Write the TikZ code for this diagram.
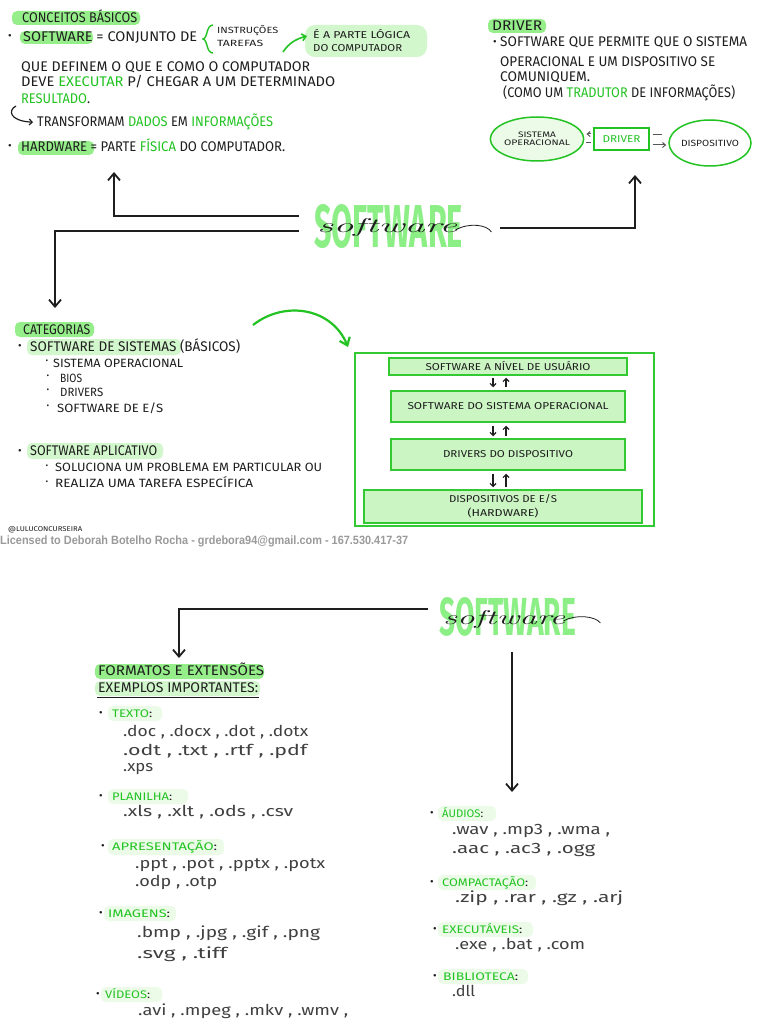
\documentclass[tikz,border=0pt]{standalone}
\usepackage{fontspec}
\usepackage{graphicx}
\usetikzlibrary{arrows.meta,calc,shapes.geometric}
\newfontfamily\hand{Fira Sans}
\newfontfamily\licfont{Liberation Sans}
\definecolor{ink}{HTML}{1E1E1E}
\definecolor{gtext}{HTML}{22C322}
\definecolor{hl}{HTML}{95EE89}
\definecolor{hll}{HTML}{D3F7CC}
\definecolor{hlf}{HTML}{ECFBE8}
\definecolor{bigg}{HTML}{8BEF86}
\definecolor{boxline}{HTML}{33C933}
\definecolor{boxfill}{HTML}{CBF5C3}
\definecolor{lic}{HTML}{9A9A9A}
\newcommand\fw[2]{\resizebox{#1pt}{\height}{#2}}
\newcommand\gw[1]{\textcolor{gtext}{#1}}
\newcommand\kw[1]{\textcolor{ink}{#1}}
\tikzset{
 tx/.style={inner sep=0pt, anchor=base west, text=ink, font=\hand\fontsize{14}{16}\selectfont},
 txm/.style={tx, font=\hand\fontsize{12}{14}\selectfont},
 txs/.style={tx, font=\hand\fontsize{10}{12}\selectfont},
 cat/.style={tx, text=gtext, font=\hand\fontsize{11}{13}\selectfont},
 ext/.style={inner sep=0pt, anchor=base west, text=ink!85, font=\hand\fontsize{15}{17}\selectfont},
 bul/.style={inner sep=0pt, text=ink, font=\hand\fontsize{11}{11}\selectfont},
 bulsm/.style={inner sep=0pt, text=ink, font=\hand\fontsize{8}{8}\selectfont},
 conn/.style={draw=ink, line width=1.8pt, -{Straight Barb[length=7pt,width=12pt]}},
 gconn/.style={draw=gtext, line width=2.2pt, -{Straight Barb[length=7pt,width=11pt]}},
 gconnsm/.style={draw=gtext, line width=1.6pt, -{Straight Barb[length=4pt,width=7pt]}},
 sarr/.style={draw=ink!75, line width=1pt, -{Straight Barb[length=3pt,width=5pt]}},
 sline/.style={draw=ink!75, line width=1pt},
 larr/.style={draw=ink, line width=1.2pt, -{Straight Barb[length=3pt,width=6pt]}},
 lay/.style={draw=boxline, line width=1.5pt, fill=boxfill, inner sep=0pt, text=ink, font=\hand\fontsize{10}{14}\selectfont},
 bigsw/.style={inner sep=0pt, text=bigg, font=\hand\bfseries\fontsize{40}{40}\selectfont},
 script/.style={inner sep=0pt, anchor=base west, text=ink, font=\rmfamily\itshape\fontsize{20}{20}\selectfont},
}
\begin{document}
\begin{tikzpicture}[x=1pt,y=-1pt]
\useasboundingbox (0,0) rectangle (768,1024);
\fill[white] (0,0) rectangle (768,1024);

% ---------- highlights ----------
\fill[hl, rounded corners=5pt] (12,11) rectangle (140,25);
\fill[hl, rounded corners=5pt] (20,31) rectangle (93,44);
\fill[hll, rounded corners=10pt] (305,25) rectangle (427,57);
\fill[hl, rounded corners=5pt] (18,141) rectangle (94,155);
\fill[hl, rounded corners=5pt] (488,19) rectangle (546,33);
\fill[hl, rounded corners=5pt] (15,322) rectangle (94,337);
\fill[hll, rounded corners=5pt] (27,339) rectangle (181,355);
\fill[hll, rounded corners=5pt] (27,443) rectangle (163,459);
\fill[hl, rounded corners=5pt] (95,664) rectangle (264,679);
\fill[hll, rounded corners=5pt] (95,681) rectangle (260,696);
\fill[hlf, rounded corners=5pt] (108,706) rectangle (162,721);
\fill[hlf, rounded corners=5pt] (108,789) rectangle (188,804);
\fill[hlf, rounded corners=5pt] (108,839) rectangle (224,855);
\fill[hlf, rounded corners=5pt] (104,906) rectangle (176,921);
\fill[hlf, rounded corners=5pt] (101,987) rectangle (162,1002);
\fill[hlf, rounded corners=5pt] (438,806) rectangle (496,821);
\fill[hlf, rounded corners=5pt] (438,875) rectangle (536,890);
\fill[hlf, rounded corners=5pt] (438,922) rectangle (533,937);
\fill[hlf, rounded corners=5pt] (438,969) rectangle (528,984);

% ---------- conceitos basicos ----------
\node[tx] (cb) at (22,22.8) {\fw{115}{CONCEITOS BÁSICOS}};
\node[bul] (b1) at (10,37) {•};
\node[tx] (sw) at (23,41.8) {\fw{174}{SOFTWARE = CONJUNTO DE}};
\draw[gtext, line width=1.4pt] (213,25) .. controls (206,25) and (208,38) .. (203,39) .. controls (208,40) and (206,53) .. (213,53);
\node[tx, font=\hand\fontsize{9}{11}\selectfont] (ins) at (217,34) {\fw{61}{INSTRUÇÕES}};
\node[tx, font=\hand\fontsize{9}{11}\selectfont] (tar) at (217,46.5) {\fw{46}{TAREFAS}};
\node[txs] (pl1) at (313,38.5) {\fw{97}{É A PARTE LÓGICA}};
\node[txs] (pl2) at (313,51.5) {\fw{89}{DO COMPUTADOR}};
\coordinate (ga) at (283,52);
\draw[gconnsm] (ga) .. controls (289,43) and (296,39) .. ($(pl1.west)+(-6,2)$);
\node[tx] (q1) at (21,71.8) {\fw{289}{QUE DEFINEM O QUE E COMO O COMPUTADOR}};
\node[tx] (q2) at (21,86.8) {\fw{314}{DEVE \gw{EXECUTAR} P/ CHEGAR A UM DETERMINADO}};
\node[tx] (q3) at (21,103.8) {\fw{69}{\gw{RESULTADO}.}};
\node[tx] (q4) at (37,126.8) {\fw{236}{TRANSFORMAM \gw{DADOS} EM \gw{INFORMAÇÕES}}};
\coordinate (hk) at (16,106);
\draw[draw=ink, line width=1.2pt, -{Straight Barb[length=3pt,width=6pt]}] (hk) .. controls (8,110) and (9,121) .. ($(q4.west)+(-4,0)$);
\node[bul] (b2) at (10,147) {•};
\node[tx] (hw) at (21,151.8) {\fw{264}{HARDWARE = PARTE \gw{FÍSICA} DO COMPUTADOR.}};

% ---------- driver ----------
\node[tx] (drvt) at (492,30.8) {\fw{50}{DRIVER}};
\node[bul] (b3) at (495,43) {•};
\node[tx] (d1) at (500,46.8) {\fw{247}{SOFTWARE QUE PERMITE QUE O SISTEMA}};
\node[tx] (d2) at (500,66.3) {\fw{215}{OPERACIONAL E UM DISPOSITIVO SE}};
\node[tx] (d3) at (500,81.8) {\fw{90}{COMUNIQUEM.}};
\node[tx] (d4) at (503,97.8) {\fw{232}{(COMO UM \gw{TRADUTOR} DE INFORMAÇÕES)}};
\node[ellipse, draw=gtext, line width=1.5pt, fill=hlf, minimum width=80pt, minimum height=44pt, inner sep=0pt, align=center, text=ink, font=\hand\fontsize{8}{8}\selectfont] (so) at (537,139) {\fw{38}{SISTEMA}\\\fw{66}{OPERACIONAL}};
\node[draw=gtext, line width=1.3pt, fill=white, minimum width=55pt, minimum height=22pt, inner sep=0pt, text=gtext, font=\hand\fontsize{10}{10}\selectfont] (drv) at (621.5,139) {\fw{38}{DRIVER}};
\node[ellipse, draw=gtext, line width=1.5pt, fill=white, minimum width=76pt, minimum height=46pt, inner sep=0pt, text=ink, font=\hand\fontsize{9}{9}\selectfont] (disp) at (710,143) {\fw{58}{DISPOSITIVO}};
\draw[sarr] ($(drv.west)+(-2,-5)$) -- ($(so.east)+(2,-5)$);
\draw[sline] ($(drv.west)+(-2,4)$) -- ($(so.east)+(2,4)$);
\draw[sline] ($(drv.east)+(3,-4)$) -- ($(disp.west)+(-6,-8)$);
\draw[sarr] ($(drv.east)+(3,6)$) -- ($(disp.west)+(-2,2)$);

% ---------- central software ----------
\node[bigsw] (big1) at (388.5,226.5) {\resizebox{149pt}{43pt}{SOFTWARE}};
\node[script] (scr1) at (317,233) {\resizebox{140pt}{\height}{software}};
\draw[ink, line width=0.8pt] ($(scr1.base east)+(-2,-3)$) .. controls ($(scr1.base east)+(12,-11)$) and ($(scr1.base east)+(30,-8)$) .. ($(scr1.base east)+(34,-1)$);
\coordinate (u1) at (114,172);
\coordinate (dn1) at (55,308);
\coordinate (u2) at (635,175);
\draw[conn] ($(big1.west)+(-15,-10.5)$) -| (u1);
\draw[conn] ($(big1.west)+(-15,4.5)$) -| (dn1);
\draw[conn] ($(big1.east)+(37,1.5)$) -| (u2);

% ---------- categorias ----------
\node[tx] (cat) at (23,334.8) {\fw{67}{CATEGORIAS}};
\node[bul] (b4) at (20,347) {•};
\node[tx] (ss) at (30,351.8) {\fw{210}{SOFTWARE DE SISTEMAS (BÁSICOS)}};
\node[bulsm] (b5) at (47,362) {•};
\node[txm] (s1) at (53,367) {\fw{130}{SISTEMA OPERACIONAL}};
\node[bulsm] (b6) at (48,377) {•};
\node[txm] (s2) at (60,382) {\fw{22}{BIOS}};
\node[bulsm] (b7) at (48,391) {•};
\node[txm] (s3) at (60,396) {\fw{43}{DRIVERS}};
\node[bulsm] (b8) at (48,407) {•};
\node[txm] (s4) at (57,412) {\fw{106}{SOFTWARE DE E/S}};
\node[bul] (b9) at (20,452) {•};
\node[tx] (sa) at (30,455.8) {\fw{127}{SOFTWARE APLICATIVO}};
\node[bulsm] (b10) at (47,467) {•};
\node[txm] (a1) at (55,471) {\fw{267}{SOLUCIONA UM PROBLEMA EM PARTICULAR OU}};
\node[bulsm] (b11) at (47,483) {•};
\node[txm] (a2) at (55,487) {\fw{198}{REALIZA UMA TAREFA ESPECÍFICA}};
\node[tx, font=\hand\fontsize{7}{7}\selectfont] (atn) at (8,531) {\fw{74}{@LULUCONCURSEIRA}};
\node[inner sep=0pt, anchor=base west, text=lic, font=\licfont\bfseries\fontsize{12}{12}\selectfont] (licn) at (0,544.5) {\fw{408}{Licensed to Deborah Botelho Rocha - grdebora94@gmail.com - 167.530.417-37}};

% ---------- layers box ----------
\node[draw=boxline, line width=2pt, fill=white, minimum width=299pt, minimum height=173pt, inner sep=0pt] (layers) at (504.5,439.5) {};
\coordinate (gcs) at (253,325);
\draw[gconn] (gcs) .. controls (285,300) and (332,308) .. ($(layers.north west)+(-6,-5)$);
\node[lay, minimum width=238pt, minimum height=17pt] (l1) at (508,366.5) {\fw{165}{SOFTWARE A NÍVEL DE USUÁRIO}};
\node[lay, minimum width=234pt, minimum height=31pt] (l2) at (508,406.5) {\fw{201}{SOFTWARE DO SISTEMA OPERACIONAL}};
\node[lay, minimum width=234pt, minimum height=31pt] (l3) at (508,454.5) {\fw{130}{DRIVERS DO DISPOSITIVO}};
\node[lay, minimum width=278pt, minimum height=33pt, align=center] (l4) at (503,506.5) {\fw{108}{DISPOSITIVOS DE E/S}\\\fw{71}{(HARDWARE)}};
\draw[larr] ($(l1.south)+(-15,2)$) -- ($(l2.north)+(-15,-3)$);
\draw[larr] ($(l2.north)+(-2,-3)$) -- ($(l1.south)+(-2,2)$);
\draw[larr] ($(l2.south)+(-15,3)$) -- ($(l3.north)+(-15,-2)$);
\draw[larr] ($(l3.north)+(-2,-2)$) -- ($(l2.south)+(-2,3)$);
\draw[larr] ($(l3.south)+(-15,3)$) -- ($(l4.north)+(-10,-2)$);
\draw[larr] ($(l4.north)+(3,-2)$) -- ($(l3.south)+(-2,3)$);

% ---------- second software ----------
\node[bigsw] (big2) at (507.5,617) {\resizebox{137pt}{38pt}{SOFTWARE}};
\node[script] (scr2) at (443,624) {\resizebox{122pt}{\height}{software}};
\draw[ink, line width=0.8pt] ($(scr2.base east)+(-2,-3)$) .. controls ($(scr2.base east)+(10,-10)$) and ($(scr2.base east)+(30,-8)$) .. ($(scr2.base east)+(35,-1)$);
\coordinate (dn2) at (179,658);
\coordinate (dn3) at (512,792);
\draw[conn] ($(big2.west)+(-11,-8)$) -| (dn2);
\draw[conn] ($(big2.south)+(4.5,15)$) -- (dn3);

% ---------- formatos ----------
\node[tx] (fe) at (98,675.8) {\fw{166}{FORMATOS E EXTENSÕES}};
\node[tx] (ex) at (98,692.8) {\fw{160}{EXEMPLOS IMPORTANTES:}};
\draw[ink, line width=1.6pt] ($(ex.base west)+(-1,4.5)$) -- ($(ex.base east)+(1,4.5)$);

\node[bul] (c1) at (101,714) {•};
\node[cat] (tt) at (112,717.8) {\fw{40}{TEXTO\kw{:}}};
\node[ext] (e1) at (123,736) {\fw{185}{.doc , .docx , .dot , .dotx}};
\node[ext] (e2) at (123,755) {\fw{184}{.odt , .txt , .rtf , .pdf}};
\node[ext] (e3) at (123,771) {\fw{30}{.xps}};

\node[bul] (c2) at (101,797) {•};
\node[cat] (pt) at (112,800.8) {\fw{60}{PLANILHA\kw{:}}};
\node[ext] (e4) at (123,816) {\fw{170}{.xls , .xlt , .ods , .csv}};

\node[bul] (c3) at (103,847) {•};
\node[cat] (apt) at (112,850.8) {\fw{105}{APRESENTAÇÃO\kw{:}}};
\node[ext] (e5) at (135,868) {\fw{190}{.ppt , .pot , .pptx , .potx}};
\node[ext] (e6) at (135,886) {\fw{82}{.odp , .otp}};

\node[bul] (c4) at (101,914) {•};
\node[cat] (imt) at (108,917.8) {\fw{62}{IMAGENS\kw{:}}};
\node[ext] (e7) at (137,937) {\fw{183}{.bmp , .jpg , .gif , .png}};
\node[ext] (e8) at (137,958) {\fw{90}{.svg , .tiff}};

\node[bul] (c5) at (98,995) {•};
\node[cat] (vt) at (105,998.8) {\fw{45}{VÍDEOS\kw{:}}};
\node[ext] (e9) at (138,1015) {\fw{210}{.avi , .mpeg , .mkv , .wmv ,}};

\node[bul] (c6) at (432,814) {•};
\node[cat] (aut) at (442,817.8) {\fw{41}{ÁUDIOS\kw{:}}};
\node[ext] (e10) at (452,834) {\fw{158}{.wav , .mp3 , .wma ,}};
\node[ext] (e11) at (452,853) {\fw{143}{.aac , .ac3 , .ogg}};

\node[bul] (c7) at (432,883) {•};
\node[cat] (cpt) at (442,886.8) {\fw{86}{COMPACTAÇÃO\kw{:}}};
\node[ext] (e12) at (455,902) {\fw{168}{.zip , .rar , .gz , .arj}};

\node[bul] (c8) at (435,930) {•};
\node[cat] (ext1) at (442,933.8) {\fw{80}{EXECUTÁVEIS\kw{:}}};
\node[ext] (e13) at (455,949) {\fw{130}{.exe , .bat , .com}};

\node[bul] (c9) at (435,977) {•};
\node[cat] (bit) at (443,980.8) {\fw{75}{BIBLIOTECA\kw{:}}};
\node[ext] (e14) at (452,996) {\fw{23}{.dll}};
\end{tikzpicture}
\end{document}
